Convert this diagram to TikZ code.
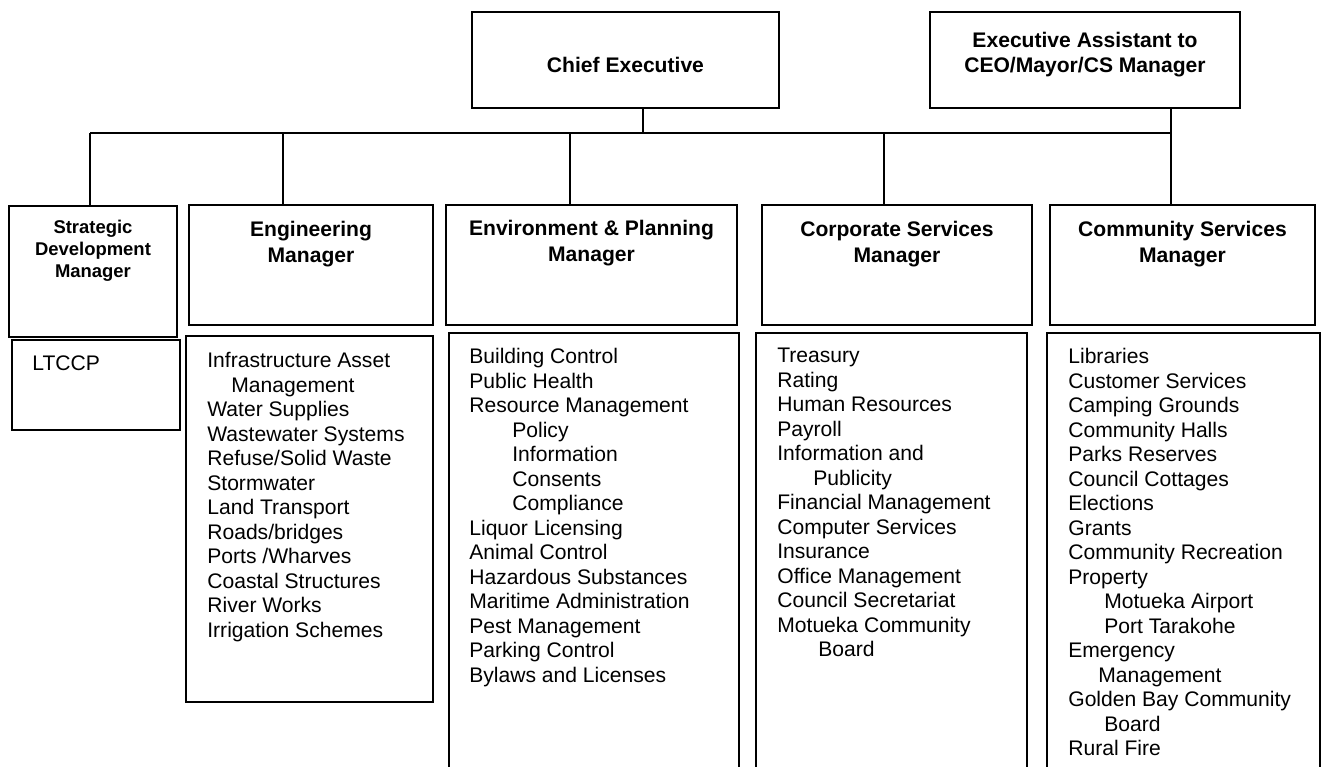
\documentclass[tikz,border=0pt]{standalone}
\usepackage{fontspec}
\setmainfont{Liberation Sans}
\usetikzlibrary{positioning}
\newcommand{\subent}[1]{\hspace*{#1}}

\begin{document}
\begin{tikzpicture}[x=0.02cm,y=-0.02cm,
    box/.style={draw,line width=1pt,inner sep=0pt,outer sep=0pt,anchor=north west},
    head/.style={inner sep=0pt,align=center,font=\bfseries\fontsize{12}{14.8}\selectfont},
    list/.style={inner sep=0pt,align=left,font=\fontsize{12}{13.95}\selectfont},
    conn/.style={line width=0.8pt}]
\useasboundingbox (0,0) rectangle (1322,767);
\clip (0,0) rectangle (1322,767);

\node[box,minimum width=6.14cm,minimum height=1.92cm] (chief) at (472,12) {};
\node[box,minimum width=6.2cm,minimum height=1.92cm] (asst) at (930,12) {};
\node[box,minimum width=3.36cm,minimum height=2.62cm] (strat) at (9,206) {};
\node[box,minimum width=3.36cm,minimum height=1.8cm] (stratlist) at (12,340) {};
\node[box,minimum width=4.88cm,minimum height=2.4cm] (eng) at (189,205) {};
\node[box,minimum width=4.94cm,minimum height=7.32cm] (englist) at (186,336) {};
\node[box,minimum width=5.82cm,minimum height=2.4cm] (env) at (446,205) {};
\node[box,minimum width=5.8cm,minimum height=9.4cm] (envlist) at (449,333) {};
\node[box,minimum width=5.4cm,minimum height=2.4cm] (corp) at (762,205) {};
\node[box,minimum width=5.42cm,minimum height=9.4cm] (corplist) at (756,333) {};
\node[box,minimum width=5.3cm,minimum height=2.4cm] (comm) at (1050,205) {};
\node[box,minimum width=5.46cm,minimum height=9.4cm] (commlist) at (1047,333) {};

\node[head,below=0.9cm of chief.north] (chieft) {Chief Executive};
\node[head,font=\bfseries\fontsize{12}{14.2}\selectfont,below=0.4cm of asst.north] (asstt) {Executive Assistant to\\CEO/Mayor/CS Manager};
\node[head,font=\bfseries\fontsize{10.5}{12.5}\selectfont,below=0.28cm of strat.north] (stratt) {Strategic\\Development\\Manager};
\node[head,below=0.32cm of eng.north] (engt) {Engineering\\Manager};
\node[head,below=0.3cm of env.north] (envt) {Environment \& Planning\\Manager};
\node[head,below=0.32cm of corp.north] (corpt) {Corporate Services\\Manager};
\node[head,below=0.32cm of comm.north] (commt) {Community Services\\Manager};

\node[list,below right=0.3cm and 0.4cm of stratlist.north west] (stratitems) {LTCCP};
\node[list,below right=0.32cm and 0.42cm of englist.north west] (engitems) {Infrastructure Asset\\
  \subent{0.48cm}Management\\
  Water Supplies\\
  Wastewater Systems\\
  Refuse/Solid Waste\\
  Stormwater\\
  Land Transport\\
  Roads/bridges\\
  Ports /Wharves\\
  Coastal Structures\\
  River Works\\
  Irrigation Schemes};
\node[list,below right=0.3cm and 0.4cm of envlist.north west] (envitems) {Building Control\\
  Public Health\\
  Resource Management\\
  \subent{0.86cm}Policy\\
  \subent{0.86cm}Information\\
  \subent{0.86cm}Consents\\
  \subent{0.86cm}Compliance\\
  Liquor Licensing\\
  Animal Control\\
  Hazardous Substances\\
  Maritime Administration\\
  Pest Management\\
  Parking Control\\
  Bylaws and Licenses};
\node[list,below right=0.3cm and 0.42cm of corplist.north west] (corpitems) {Treasury\\
  Rating\\
  Human Resources\\
  Payroll\\
  Information and\\
  \subent{0.72cm}Publicity\\
  Financial Management\\
  Computer Services\\
  Insurance\\
  Office Management\\
  Council Secretariat\\
  Motueka Community\\
  \subent{0.82cm}Board};
\node[list,below right=0.3cm and 0.42cm of commlist.north west] (commitems) {Libraries\\
  Customer Services\\
  Camping Grounds\\
  Community Halls\\
  Parks Reserves\\
  Council Cottages\\
  Elections\\
  Grants\\
  Community Recreation\\
  Property\\
  \subent{0.72cm}Motueka Airport\\
  \subent{0.72cm}Port Tarakohe\\
  Emergency\\
  \subent{0.6cm}Management\\
  Golden Bay Community\\
  \subent{0.72cm}Board\\
  Rural Fire};

\coordinate (cj) at (643,133);
\coordinate (ej) at (1171,133);
\coordinate (j1) at (90,133);
\coordinate (j2) at (283,133);
\coordinate (j3) at (570,133);
\coordinate (j4) at (884,133);
\draw[conn] (j1) -- (ej);
\draw[conn] (cj |- chief.south) -- (cj);
\draw[conn] (ej |- asst.south) -- (ej |- comm.north);
\draw[conn] (j1) -- (j1 |- strat.north);
\draw[conn] (j2) -- (j2 |- eng.north);
\draw[conn] (j3) -- (j3 |- env.north);
\draw[conn] (j4) -- (j4 |- corp.north);
\end{tikzpicture}
\end{document}
